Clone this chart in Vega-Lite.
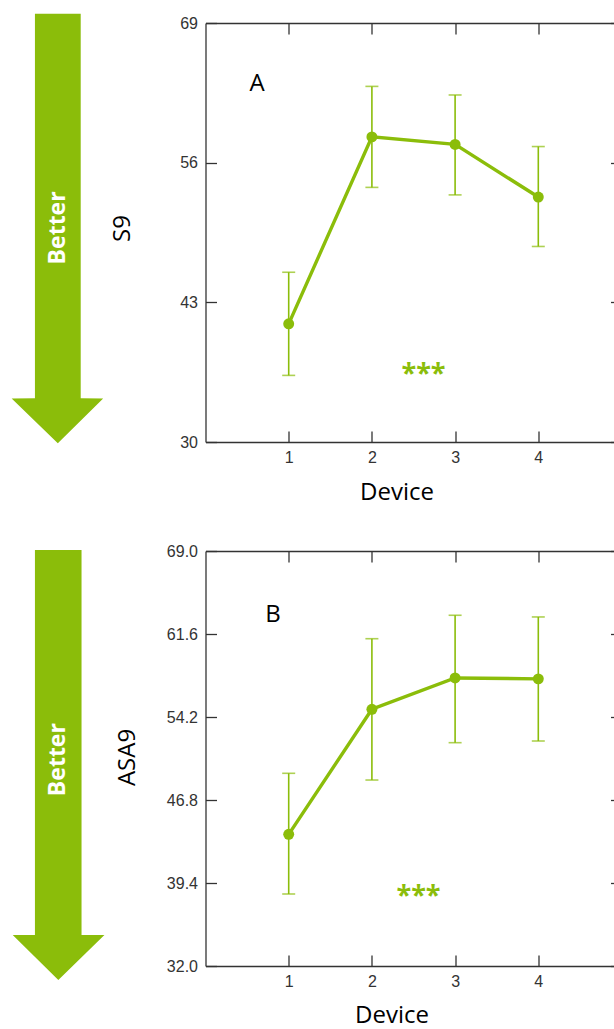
{
  "$schema": "https://vega.github.io/schema/vega-lite/v6.json",
  "background": "white",
  "padding": {"left": 11.5, "top": 13, "right": 0, "bottom": 0},
  "spacing": 39,
  "config": {
    "view": {"stroke": null},
    "font": "Open Sans",
    "axis": {
      "grid": false,
      "labelFont": "Liberation Sans",
      "labelFontSize": 16,
      "labelColor": "#333333",
      "domainColor": "#333333",
      "tickColor": "#333333",
      "domainWidth": 1.3,
      "tickWidth": 1.3,
      "tickSize": -11,
      "labelFlush": false,
      "labelOverlap": false,
      "titleFont": "Open Sans",
      "titleFontSize": 24,
      "titleFontWeight": "normal",
      "titleColor": "#000000"
    },
    "axisX": {"labelPadding": 18},
    "axisY": {"labelPadding": 19}
  },
  "datasets": {
    "a": [
      {"x": 1, "y": 41.0, "lo": 36.2, "hi": 45.8},
      {"x": 2, "y": 58.4, "lo": 53.7, "hi": 63.1},
      {"x": 3, "y": 57.7, "lo": 53.0, "hi": 62.3},
      {"x": 4, "y": 52.8, "lo": 48.2, "hi": 57.5}
    ],
    "b": [
      {"x": 1, "y": 43.74, "lo": 38.42, "hi": 49.18},
      {"x": 2, "y": 54.89, "lo": 48.58, "hi": 61.18},
      {"x": 3, "y": 57.68, "lo": 51.91, "hi": 63.27},
      {"x": 4, "y": 57.6, "lo": 52.06, "hi": 63.12}
    ],
    "arrowA": [
      {"y": 69.85, "x": -2.05, "x2": -1.5},
      {"y": 34.07, "x": -2.05, "x2": -1.5},
      {"y": 34.06, "x": -2.33, "x2": -1.23},
      {"y": 29.88, "x": -1.775, "x2": -1.775}
    ],
    "arrowB": [
      {"y": 69.09, "x": -2.05, "x2": -1.49},
      {"y": 34.77, "x": -2.05, "x2": -1.49},
      {"y": 34.76, "x": -2.317, "x2": -1.215},
      {"y": 30.75, "x": -1.769, "x2": -1.769}
    ],
    "betterA": [{"x": -1.775, "y": 49.93, "label": "Better"}],
    "panelA": [{"x": 0.62, "y": 63.3, "label": "A"}],
    "sigA": [{"x": 2.62, "y": 36.35, "label": "***"}],
    "betterB": [{"x": -1.769, "y": 50.4, "label": "Better"}],
    "panelB": [{"x": 0.81, "y": 63.3, "label": "B"}],
    "sigB": [{"x": 2.56, "y": 38.25, "label": "***"}]
  },
  "vconcat": [
    {
      "width": 416,
      "height": 419,
      "resolve": {"axis": {"x": "independent", "y": "independent"}},
      "layer": [
        {
          "data": {"name": "arrowA"},
          "mark": {"type": "area", "orient": "horizontal", "color": "#8bbd0a", "clip": false, "opacity": 1},
          "encoding": {
            "y": {"field": "y", "type": "quantitative", "scale": {"domain": [30, 69], "nice": false, "zero": false}, "axis": null},
            "x": {"field": "x", "type": "quantitative", "stack": null, "scale": {"domain": [0, 5], "nice": false, "zero": false}, "axis": null},
            "x2": {"field": "x2"}
          }
        },
        {
          "data": {"name": "a"},
          "mark": {"type": "rule", "color": "#8bbd0a", "strokeWidth": 1.6},
          "encoding": {
            "x": {"field": "x", "type": "quantitative", "scale": {"domain": [0, 5], "nice": false, "zero": false},
                  "axis": {"orient": "top", "values": [1, 2, 3, 4], "labels": false, "title": null}},
            "y": {"field": "lo", "type": "quantitative", "scale": {"domain": [30, 69], "nice": false, "zero": false},
                  "axis": {"orient": "right", "values": [30, 43, 56, 69], "labels": false, "title": null}},
            "y2": {"field": "hi"}
          }
        },
        {
          "data": {"name": "a"},
          "mark": {"type": "tick", "orient": "horizontal", "size": 13, "thickness": 1.6, "color": "#8bbd0a"},
          "encoding": {
            "x": {"field": "x", "type": "quantitative", "scale": {"domain": [0, 5], "nice": false, "zero": false}, "axis": null},
            "y": {"field": "lo", "type": "quantitative", "scale": {"domain": [30, 69], "nice": false, "zero": false}, "axis": null}
          }
        },
        {
          "data": {"name": "a"},
          "mark": {"type": "tick", "orient": "horizontal", "size": 13, "thickness": 1.6, "color": "#8bbd0a"},
          "encoding": {
            "x": {"field": "x", "type": "quantitative", "scale": {"domain": [0, 5], "nice": false, "zero": false}, "axis": null},
            "y": {"field": "hi", "type": "quantitative", "scale": {"domain": [30, 69], "nice": false, "zero": false}, "axis": null}
          }
        },
        {
          "data": {"name": "a"},
          "mark": {"type": "line", "color": "#8bbd0a", "strokeWidth": 3.4, "point": {"filled": true, "size": 120, "color": "#8bbd0a"}},
          "encoding": {
            "x": {"field": "x", "type": "quantitative", "scale": {"domain": [0, 5], "nice": false, "zero": false},
                  "axis": {"orient": "bottom", "values": [1, 2, 3, 4], "format": "d", "title": "Device", "titleX": 191, "titleY": 50, "titleBaseline": "middle", "titleAlign": "center"}},
            "y": {"field": "y", "type": "quantitative", "scale": {"domain": [30, 69], "nice": false, "zero": false},
                  "axis": {"orient": "left", "values": [30, 43, 56, 69], "format": "d", "title": "S9", "titleX": -83, "titleY": 205, "titleAngle": 270, "titleBaseline": "middle", "titleAlign": "center"}}
          }
        },
        {
          "data": {"name": "betterA"},
          "mark": {"type": "text", "clip": false, "baseline": "middle", "align": "center", "angle": 270, "color": "#ffffff", "font": "Open Sans", "fontSize": 23, "fontWeight": "bold"},
          "encoding": {
            "x": {"field": "x", "type": "quantitative", "scale": {"domain": [0, 5], "nice": false, "zero": false}, "axis": null},
            "y": {"field": "y", "type": "quantitative", "scale": {"domain": [30, 69], "nice": false, "zero": false}, "axis": null},
            "text": {"field": "label"}
          }
        },
        {
          "data": {"name": "panelA"},
          "mark": {"type": "text", "clip": false, "baseline": "middle", "align": "center", "color": "#000000", "font": "Open Sans", "fontSize": 24},
          "encoding": {
            "x": {"field": "x", "type": "quantitative", "scale": {"domain": [0, 5], "nice": false, "zero": false}, "axis": null},
            "y": {"field": "y", "type": "quantitative", "scale": {"domain": [30, 69], "nice": false, "zero": false}, "axis": null},
            "text": {"field": "label"}
          }
        },
        {
          "data": {"name": "sigA"},
          "mark": {"type": "text", "clip": false, "baseline": "middle", "align": "center", "color": "#8bbd0a", "font": "Open Sans", "fontSize": 27, "fontWeight": "bold"},
          "encoding": {
            "x": {"field": "x", "type": "quantitative", "scale": {"domain": [0, 5], "nice": false, "zero": false}, "axis": null},
            "y": {"field": "y", "type": "quantitative", "scale": {"domain": [30, 69], "nice": false, "zero": false}, "axis": null},
            "text": {"field": "label"}
          }
        }
      ]
    },
    {
      "width": 416,
      "height": 415,
      "resolve": {"axis": {"x": "independent", "y": "independent"}},
      "layer": [
        {
          "data": {"name": "arrowB"},
          "mark": {"type": "area", "orient": "horizontal", "color": "#8bbd0a", "clip": false, "opacity": 1},
          "encoding": {
            "y": {"field": "y", "type": "quantitative", "scale": {"domain": [32, 69], "nice": false, "zero": false}, "axis": null},
            "x": {"field": "x", "type": "quantitative", "stack": null, "scale": {"domain": [0, 5], "nice": false, "zero": false}, "axis": null},
            "x2": {"field": "x2"}
          }
        },
        {
          "data": {"name": "b"},
          "mark": {"type": "rule", "color": "#8bbd0a", "strokeWidth": 1.6},
          "encoding": {
            "x": {"field": "x", "type": "quantitative", "scale": {"domain": [0, 5], "nice": false, "zero": false},
                  "axis": {"orient": "top", "values": [1, 2, 3, 4], "labels": false, "title": null}},
            "y": {"field": "lo", "type": "quantitative", "scale": {"domain": [32, 69], "nice": false, "zero": false},
                  "axis": {"orient": "right", "values": [32, 39.4, 46.8, 54.2, 61.6, 69], "labels": false, "title": null}},
            "y2": {"field": "hi"}
          }
        },
        {
          "data": {"name": "b"},
          "mark": {"type": "tick", "orient": "horizontal", "size": 13, "thickness": 1.6, "color": "#8bbd0a"},
          "encoding": {
            "x": {"field": "x", "type": "quantitative", "scale": {"domain": [0, 5], "nice": false, "zero": false}, "axis": null},
            "y": {"field": "lo", "type": "quantitative", "scale": {"domain": [32, 69], "nice": false, "zero": false}, "axis": null}
          }
        },
        {
          "data": {"name": "b"},
          "mark": {"type": "tick", "orient": "horizontal", "size": 13, "thickness": 1.6, "color": "#8bbd0a"},
          "encoding": {
            "x": {"field": "x", "type": "quantitative", "scale": {"domain": [0, 5], "nice": false, "zero": false}, "axis": null},
            "y": {"field": "hi", "type": "quantitative", "scale": {"domain": [32, 69], "nice": false, "zero": false}, "axis": null}
          }
        },
        {
          "data": {"name": "b"},
          "mark": {"type": "line", "color": "#8bbd0a", "strokeWidth": 3.4, "point": {"filled": true, "size": 120, "color": "#8bbd0a"}},
          "encoding": {
            "x": {"field": "x", "type": "quantitative", "scale": {"domain": [0, 5], "nice": false, "zero": false},
                  "axis": {"orient": "bottom", "values": [1, 2, 3, 4], "format": "d", "title": "Device", "titleX": 186, "titleY": 49, "titleBaseline": "middle", "titleAlign": "center"}},
            "y": {"field": "y", "type": "quantitative", "scale": {"domain": [32, 69], "nice": false, "zero": false},
                  "axis": {"orient": "left", "values": [32, 39.4, 46.8, 54.2, 61.6, 69], "format": ".1f", "title": "ASA9", "titleX": -78, "titleY": 206, "titleAngle": 270, "titleBaseline": "middle", "titleAlign": "center"}}
          }
        },
        {
          "data": {"name": "betterB"},
          "mark": {"type": "text", "clip": false, "baseline": "middle", "align": "center", "angle": 270, "color": "#ffffff", "font": "Open Sans", "fontSize": 23, "fontWeight": "bold"},
          "encoding": {
            "x": {"field": "x", "type": "quantitative", "scale": {"domain": [0, 5], "nice": false, "zero": false}, "axis": null},
            "y": {"field": "y", "type": "quantitative", "scale": {"domain": [32, 69], "nice": false, "zero": false}, "axis": null},
            "text": {"field": "label"}
          }
        },
        {
          "data": {"name": "panelB"},
          "mark": {"type": "text", "clip": false, "baseline": "middle", "align": "center", "color": "#000000", "font": "Open Sans", "fontSize": 24},
          "encoding": {
            "x": {"field": "x", "type": "quantitative", "scale": {"domain": [0, 5], "nice": false, "zero": false}, "axis": null},
            "y": {"field": "y", "type": "quantitative", "scale": {"domain": [32, 69], "nice": false, "zero": false}, "axis": null},
            "text": {"field": "label"}
          }
        },
        {
          "data": {"name": "sigB"},
          "mark": {"type": "text", "clip": false, "baseline": "middle", "align": "center", "color": "#8bbd0a", "font": "Open Sans", "fontSize": 27, "fontWeight": "bold"},
          "encoding": {
            "x": {"field": "x", "type": "quantitative", "scale": {"domain": [0, 5], "nice": false, "zero": false}, "axis": null},
            "y": {"field": "y", "type": "quantitative", "scale": {"domain": [32, 69], "nice": false, "zero": false}, "axis": null},
            "text": {"field": "label"}
          }
        }
      ]
    }
  ]
}
